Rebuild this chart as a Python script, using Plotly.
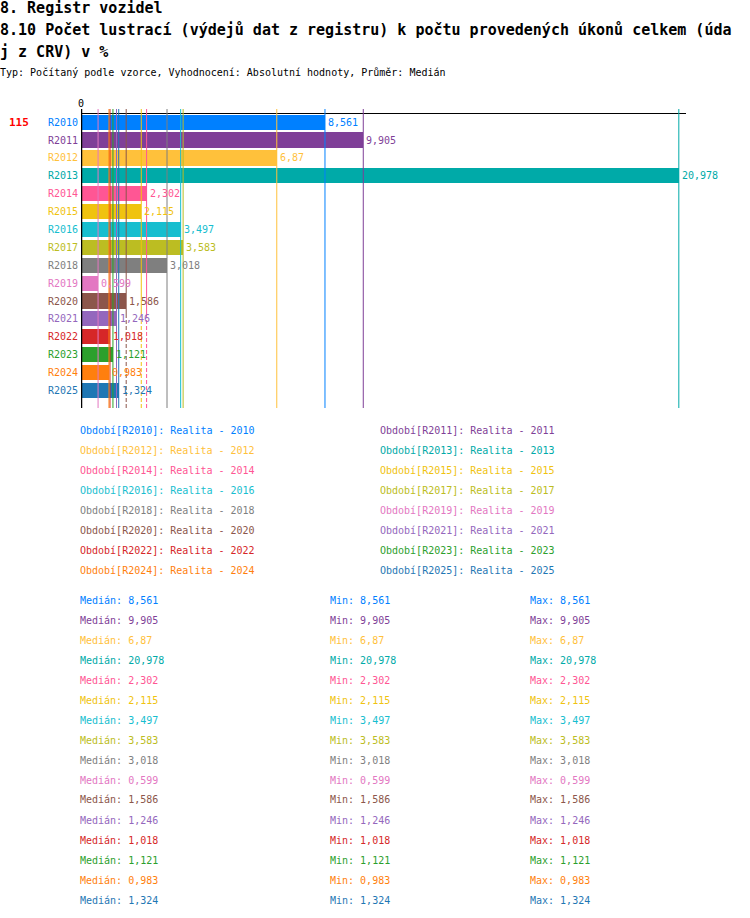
import plotly.graph_objects as go

categories = ["R2010", "R2011", "R2012", "R2013", "R2014", "R2015", "R2016", "R2017",
              "R2018", "R2019", "R2020", "R2021", "R2022", "R2023", "R2024", "R2025"]
values = [8.561, 9.905, 6.87, 20.978, 2.302, 2.115, 3.497, 3.583,
          3.018, 0.599, 1.586, 1.246, 1.018, 1.121, 0.983, 1.324]
value_labels = ["8,561", "9,905", "6,87", "20,978", "2,302", "2,115", "3,497", "3,583",
                "3,018", "0,599", "1,586", "1,246", "1,018", "1,121", "0,983", "1,324"]
colors = ["#0080ff", "#7f3f98", "#ffc13b", "#00aaa8", "#ff5694", "#f0c30f", "#17becf", "#bcbd22",
          "#7f7f7f", "#e377c2", "#8c564b", "#9467bd", "#d62728", "#2ca02c", "#ff7f0e", "#1f77b4"]
years = ["2010", "2011", "2012", "2013", "2014", "2015", "2016", "2017",
         "2018", "2019", "2020", "2021", "2022", "2023", "2024", "2025"]
dashed_lower = ["R2014", "R2015", "R2020"]

title1 = "8. Registr vozidel"
title2 = "8.10 Počet lustrací (výdejů dat z registru) k počtu provedených úkonů celkem (úda"
title3 = "j z CRV) v %"
subtitle = "Typ: Počítaný podle vzorce, Vyhodnocení: Absolutní hodnoty, Průměr: Medián"
count_label = "115"

W, H = 750, 918
L, R, T, B = 81, 686, 114, 408
PW, PH = R - L, B - T
PPU_Y = 17.88
FIRST_CENTER = 122.2
MONO = "DejaVu Sans Mono"
TX = -2  # compensate annotation padding


def px(x):
    return (x - L) / PW


def py(y):
    return (B - y) / PH


y_top = -(FIRST_CENTER - T) / PPU_Y
y_bot = y_top + PH / PPU_Y
x_max = 21.23

idx = list(range(len(categories)))

fig = go.Figure()
fig.add_trace(go.Bar(
    orientation="h", x=values, y=idx, width=0.85,
    marker=dict(color=colors, line=dict(width=0)),
    hoverinfo="skip", showlegend=False,
))

shapes = []
annotations = []

# vertical value lines
split_y = py(314)
for c, v, col in zip(categories, values, colors):
    if c in dashed_lower:
        shapes.append(dict(type="line", xref="x", yref="paper", x0=v, x1=v, y0=split_y, y1=py(109),
                           line=dict(color=col, width=1), layer="above"))
        shapes.append(dict(type="line", xref="x", yref="paper", x0=v, x1=v, y0=0, y1=split_y,
                           line=dict(color=col, width=1, dash="4px,2px"), layer="above"))
    else:
        shapes.append(dict(type="line", xref="x", yref="paper", x0=v, x1=v, y0=0, y1=py(109),
                           line=dict(color=col, width=1), layer="above"))

# zero axis line
shapes.append(dict(type="line", xref="x", yref="paper", x0=0, x1=0, y0=0, y1=py(109),
                   line=dict(color="black", width=2.5), layer="above"))

# category labels and value labels
for i, (c, v, lab, col) in enumerate(zip(categories, values, value_labels, colors)):
    annotations.append(dict(x=0, y=i, xref="paper", yref="y", text=c, showarrow=False,
                            xanchor="right", yanchor="middle", xshift=-1,
                            font=dict(family=MONO, size=10, color=col)))
    annotations.append(dict(x=v, y=i, xref="x", yref="y", text=lab, showarrow=False,
                            xanchor="left", yanchor="middle", xshift=1,
                            font=dict(family=MONO, size=10, color=col)))

# count label
annotations.append(dict(x=px(9), y=0, xref="paper", yref="y", text="<b>" + count_label + "</b>",
                        showarrow=False, xanchor="left", yanchor="middle", xshift=TX,
                        font=dict(family=MONO, size=11, color="#ff0000")))

# "0" tick label
annotations.append(dict(x=0, y=py(103), xref="x", yref="paper", text="0", showarrow=False,
                        xanchor="center", yanchor="middle",
                        font=dict(family=MONO, size=10, color="black")))

# titles
for txt, yy, sz, bold in [(title1, 8, 15, True), (title2, 30.5, 15, True),
                          (title3, 52, 15, True), (subtitle, 73, 10, False)]:
    annotations.append(dict(x=px(0), y=py(yy), xref="paper", yref="paper",
                            text=("<b>" + txt + "</b>") if bold else txt, showarrow=False,
                            xanchor="left", yanchor="middle", xshift=TX,
                            font=dict(family=MONO, size=sz, color="black")))

# legend (2 columns)
for i, (c, yr, col) in enumerate(zip(categories, years, colors)):
    row, colx = divmod(i, 2)
    xx = 80 if colx == 0 else 380
    yy = 430 + 20 * row
    annotations.append(dict(x=px(xx), y=py(yy), xref="paper", yref="paper",
                            text=f"Období[{c}]: Realita - {yr}", showarrow=False,
                            xanchor="left", yanchor="middle", xshift=TX,
                            font=dict(family=MONO, size=10, color=col)))

# stats
for i, (lab, col) in enumerate(zip(value_labels, colors)):
    yy = 600 + 20 * i
    for xx, pre in [(80, "Medián"), (330, "Min"), (530, "Max")]:
        annotations.append(dict(x=px(xx), y=py(yy), xref="paper", yref="paper",
                                text=f"{pre}: {lab}", showarrow=False,
                                xanchor="left", yanchor="middle", xshift=TX,
                                font=dict(family=MONO, size=10, color=col)))

fig.update_layout(
    width=W, height=H,
    margin=dict(l=L, r=W - R, t=T, b=H - B, pad=0),
    paper_bgcolor="white", plot_bgcolor="white",
    xaxis=dict(range=[0, x_max], side="top", showline=True, linecolor="black", linewidth=1,
               showgrid=False, zeroline=False, showticklabels=False, ticks=""),
    yaxis=dict(range=[y_bot, y_top], showline=False, showgrid=False, zeroline=False,
               showticklabels=False, ticks=""),
    shapes=shapes, annotations=annotations,
    bargap=0, showlegend=False,
)

fig.write_html("out.html", config={"displayModeBar": False},
               post_script="document.body.style.margin='0';document.body.style.overflow='hidden';")
